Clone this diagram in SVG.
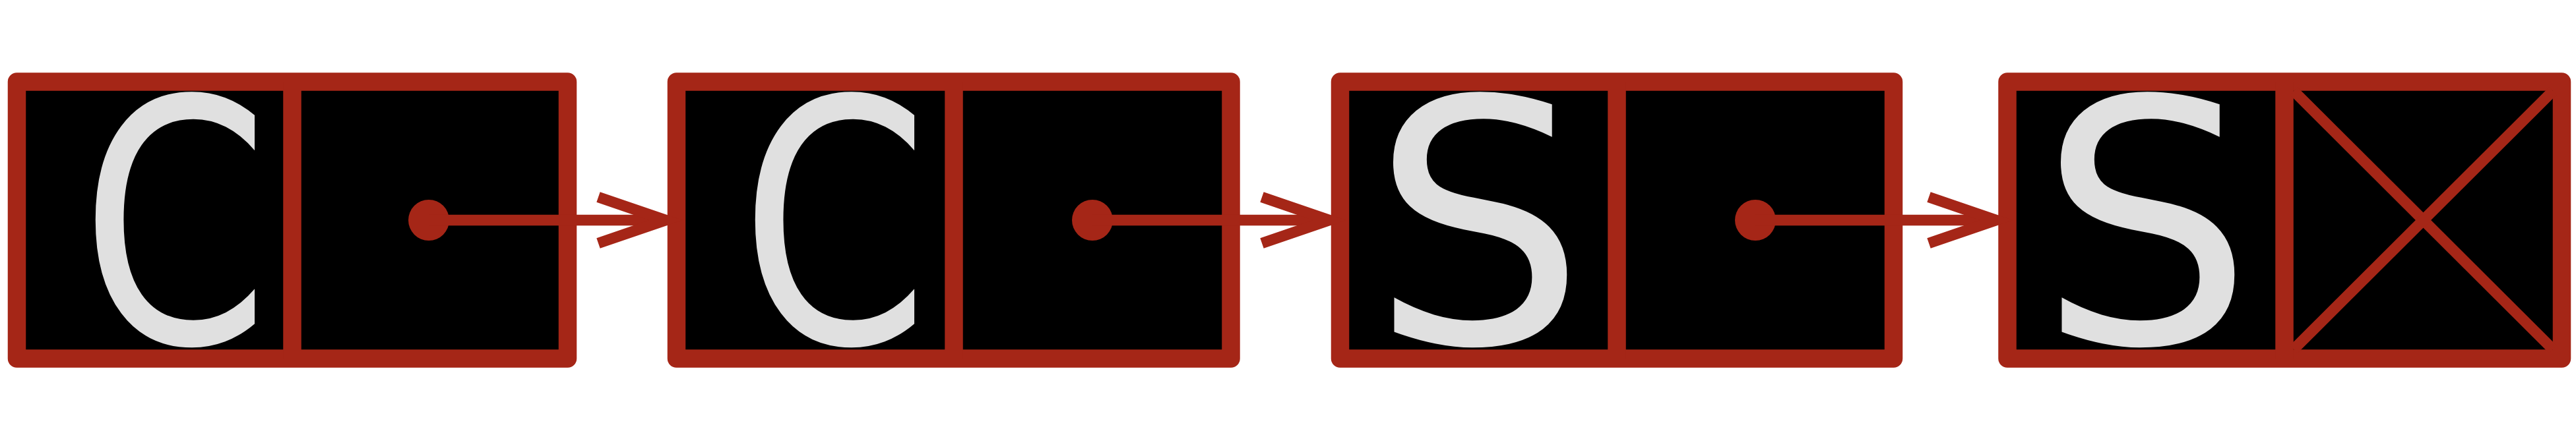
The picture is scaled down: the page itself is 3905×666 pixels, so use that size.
<svg xmlns="http://www.w3.org/2000/svg" width="3905" height="666" viewBox="0 0 3905 666">
<style>
.box{fill:#000;stroke:#a52617;stroke-width:27.5;stroke-linejoin:round}
.div{stroke:#a52617;stroke-width:27.5}
.lbl{font-family:"DejaVu Sans",Verdana,sans-serif;font-size:513px;fill:#e0e0e0;text-anchor:middle}
.ln{stroke:#a52617;stroke-width:16.5;fill:none}
.dot{fill:#a52617}
</style>
<rect width="3905" height="666" fill="#fff"/>
<g id="node1">
<rect class="box" x="25.5" y="124" width="835" height="420"/>
<line class="div" x1="443" y1="124" x2="443" y2="544"/>
<text class="lbl" transform="translate(265 0) scale(0.8 1)" x="0" y="520">C</text>
</g>
<g id="node2">
<rect class="box" x="1025.5" y="124" width="840.5" height="420"/>
<line class="div" x1="1446" y1="124" x2="1446" y2="544"/>
<text class="lbl" transform="translate(1265 0) scale(0.8 1)" x="0" y="520">C</text>
</g>
<g id="node3">
<rect class="box" x="2031.5" y="124" width="839" height="420"/>
<line class="div" x1="2451" y1="124" x2="2451" y2="544"/>
<text class="lbl" x="2241" y="520">S</text>
</g>
<g id="node4">
<rect class="box" x="3043" y="124" width="840.5" height="420"/>
<line class="div" x1="3463" y1="124" x2="3463" y2="544"/>
<text class="lbl" x="3253" y="520">S</text>
<line class="ln" x1="3477" y1="138" x2="3870" y2="530"/>
<line class="ln" x1="3870" y1="138" x2="3477" y2="530"/>
</g>
<g id="connectors">
<circle class="dot" cx="650" cy="334" r="31"/>
<line class="ln" x1="650" y1="334" x2="1008" y2="334"/>
<polyline class="ln" points="907,299 1009,334 907,369"/>
<circle class="dot" cx="1656" cy="334" r="31"/>
<line class="ln" x1="1656" y1="334" x2="2014" y2="334"/>
<polyline class="ln" points="1913,299 2015,334 1913,369"/>
<circle class="dot" cx="2661" cy="334" r="31"/>
<line class="ln" x1="2661" y1="334" x2="3026" y2="334"/>
<polyline class="ln" points="2924,299 3026,334 2924,369"/>
</g>
</svg>
